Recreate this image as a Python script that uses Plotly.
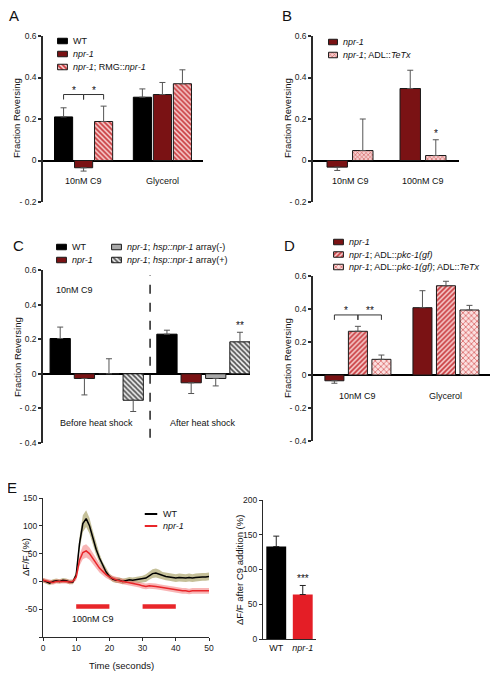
import plotly.graph_objects as go

# The page body has an 8px margin; figure is sized so the page fits the 499x679 window.
PAGE_W, PAGE_H = 499, 679
OFF = 8
W, H = PAGE_W - 2 * OFF, PAGE_H - 2 * OFF
FONT = "Arial, 'Liberation Sans', 'DejaVu Sans', sans-serif"
TXT = '#111111'

# ------------------------------------------------------------------ DATA
# Panel A
A_categories = ["10nM C9", "Glycerol"]
A_labels = ["WT", "<i>npr-1</i>", "<i>npr-1</i>; RMG::<i>npr-1</i>"]
A_wt = [0.21, 0.305]
A_wt_sem = [0.044, 0.040]
A_npr1 = [-0.035, 0.318]
A_npr1_sem = [0.016, 0.058]
A_rmg = [0.188, 0.370]
A_rmg_sem = [0.074, 0.067]

# Panel B
B_categories = ["10nM C9", "100nM C9"]
B_labels = ["<i>npr-1</i>", "<i>npr-1</i>; ADL::<i>TeTx</i>"]
B_npr1 = [-0.032, 0.347]
B_npr1_sem = [0.016, 0.088]
B_tetx = [0.048, 0.024]
B_tetx_sem = [0.152, 0.076]

# Panel C
C_categories = ["Before heat shock", "After heat shock"]
C_labels = ["WT", "<i>npr-1</i>", "<i>npr-1</i>; <i>hsp::npr-1</i> array(-)",
            "<i>npr-1</i>; <i>hsp::npr-1</i> array(+)"]
C_wt = [0.204, 0.229]
C_wt_sem = [0.066, 0.023]
C_npr1 = [-0.027, -0.052]
C_npr1_sem = [0.095, 0.062]
C_arr_minus = [0.0, -0.027]
C_arr_minus_sem = [0.087, 0.043]
C_arr_plus = [-0.153, 0.185]
C_arr_plus_sem = [0.065, 0.055]

# Panel D
D_categories = ["10nM C9", "Glycerol"]
D_labels = ["<i>npr-1</i>", "<i>npr-1</i>; ADL::<i>pkc-1(gf)</i>",
            "<i>npr-1</i>; ADL::<i>pkc-1(gf)</i>; ADL::<i>TeTx</i>"]
D_npr1 = [-0.035, 0.408]
D_npr1_sem = [0.015, 0.103]
D_pkc = [0.265, 0.541]
D_pkc_sem = [0.030, 0.027]
D_tetx = [0.095, 0.394]
D_tetx_sem = [0.026, 0.028]

# Panel E (calcium imaging)
E_time = [0, 1, 2, 3, 4, 5, 6, 7, 8, 9,
          10, 11, 12, 13, 14, 15, 16, 17, 18, 19,
          20, 21, 22, 23, 24, 25, 26, 27, 28, 29,
          30, 31, 32, 33, 34, 35, 36, 37, 38, 39,
          40, 41, 42, 43, 44, 45, 46, 47, 48, 49, 50]
E_wt = [2, 0, -3, 0, 1, 0, 2, 1, -1, -1,
        12, 68, 104, 113, 100, 79, 58, 42, 28, 17,
        9, 4, 2, 2, 0, 1, 3, 2, 3, 3,
        4, 6, 10, 14, 15, 13, 10, 9, 8, 7,
        6, 7, 6, 6, 7, 6, 7, 8, 8, 8, 9]
E_wt_sem = [4, 4, 4, 4, 4, 4, 4, 4, 4, 4,
            6, 12, 15, 15, 14, 12, 10, 8, 7, 6,
            5, 5, 5, 5, 5, 5, 5, 5, 5, 6,
            6, 7, 7, 8, 8, 8, 7, 7, 7, 7,
            7, 7, 7, 7, 7, 7, 7, 7, 7, 7, 7]
E_npr1 = [2, 1, -1, -2, 0, 0, 1, 0, -1, 0,
          8, 38, 52, 55, 50, 41, 32, 24, 18, 12,
          8, 5, 3, 1, 0, -2, -3, -4, -5, -6,
          -8, -9, -8, -8, -9, -10, -11, -12, -14, -14,
          -15, -16, -17, -17, -18, -17, -17, -18, -18, -17, -17]
E_npr1_sem = [4, 4, 4, 4, 4, 4, 4, 4, 4, 4,
              6, 10, 12, 12, 11, 10, 9, 8, 7, 6,
              5, 5, 5, 5, 5, 5, 5, 5, 5, 5,
              5, 5, 5, 5, 5, 5, 5, 5, 5, 5,
              5, 5, 5, 5, 5, 5, 5, 5, 5, 5, 5]
E_stim = [(10, 20), (30, 40)]
E_bar_categories = ["WT", "npr-1"]
E_bar_ticktext = ["WT", "<i>npr-1</i>"]
E_bar_values = [133, 64]
E_bar_sem = [15, 13]

# ------------------------------------------------------------------ STYLE
AX = '#2a2a2a'
BLACK = '#000000'
NPR1 = '#7a1214'
RED = '#e8262a'


def solid(color, line='#1a1a1a'):
    return dict(color=color, line=dict(color=line, width=1))


def hatched(shape, fg, bg, size=4, solidity=0.45):
    return dict(color=bg, line=dict(color='#1a1a1a', width=1),
                pattern=dict(shape=shape, fgcolor=fg, bgcolor=bg, size=size,
                             solidity=solidity, fillmode='replace'))


ST_WT = solid(BLACK, BLACK)
ST_NPR1 = solid(NPR1)
ST_RMG = hatched('\\', '#c8383c', '#f8d0d0', 3.5, 0.5)
ST_TETX_B = hatched('x', '#c84848', '#f6cccc', 3, 0.3)
ST_GRAY = solid('#a9a9a9')
ST_ARR_PLUS = hatched('\\', '#555555', '#e8e8e8', 3.5, 0.45)
ST_PKC = hatched('/', '#c8383c', '#f8d0d0', 3.5, 0.5)
ST_TETX_D = hatched('x', '#d04848', '#fbe0e0', 4, 0.3)


def xd(px):
    return (px - OFF) / W


def yd(py):
    return 1 - (py - OFF) / H


def aid(n):
    return '' if n == 1 else str(n)


fig = go.Figure()
layout = dict(width=W, height=H, margin=dict(l=0, r=0, t=0, b=0), template='none',
              paper_bgcolor='white', plot_bgcolor='white', showlegend=False,
              barmode='overlay', font=dict(family=FONT, size=9, color=TXT))
annotations = []
shapes = []


def text_px(text, x, y, size=9, angle=0, xanchor='center'):
    annotations.append(dict(text=text, xref='paper', yref='paper', x=xd(x), y=yd(y),
                            xanchor=xanchor, yanchor='middle', showarrow=False,
                            textangle=angle, font=dict(size=size, color=TXT, family=FONT)))


def bar_axes(n, x0, x1, ytop, ybot, xrange, yrange, tickvals, ticktext):
    layout['xaxis' + aid(n)] = dict(domain=[xd(x0), xd(x1)], range=xrange, visible=False,
                                    anchor='y' + aid(n), fixedrange=True)
    layout['yaxis' + aid(n)] = dict(domain=[yd(ybot), yd(ytop)], range=yrange, anchor='x' + aid(n),
                                    tickvals=tickvals, ticktext=ticktext, showline=True,
                                    linecolor=AX, linewidth=1.5, ticks='outside', ticklen=3,
                                    tickwidth=1.5, tickcolor=AX, showgrid=False, zeroline=True,
                                    zerolinecolor='#000', zerolinewidth=1.5, fixedrange=True,
                                    tickfont=dict(size=8.5, color='#222', family=FONT))


def add_series(n, values, sems, offset, width, marker, err_color='#555'):
    xs = [i + offset for i in range(len(values))]
    up = [s if v >= 0 else 0 for v, s in zip(values, sems)]
    dn = [0 if v >= 0 else s for v, s in zip(values, sems)]
    fig.add_trace(go.Bar(x=xs, y=values, width=width, marker=marker,
                         error_y=dict(type='data', symmetric=False, array=up, arrayminus=dn,
                                      color=err_color, thickness=1, width=3),
                         xaxis='x' + aid(n), yaxis='y' + aid(n), hoverinfo='skip'))


def data_text(n, text, x, y, size=9, xanchor='center', yanchor='middle', yshift=0):
    annotations.append(dict(text=text, xref='x' + aid(n), yref='y' + aid(n), x=x, y=y,
                            xanchor=xanchor, yanchor=yanchor, yshift=yshift, showarrow=False,
                            font=dict(size=size, color=TXT, family=FONT)))


def cat_labels(n, cats, ylev):
    for i, c in enumerate(cats):
        data_text(n, c, i, ylev)


def bracket(n, cat, xa, xb, level, drop, label):
    x1, x2 = cat + xa, cat + xb
    shapes.append(dict(type='path', xref='x' + aid(n), yref='y' + aid(n),
                       path=f"M{x1},{level - drop} L{x1},{level} L{x2},{level} L{x2},{level - drop}",
                       line=dict(color='#333', width=1)))
    data_text(n, label, (x1 + x2) / 2, level, size=10, yanchor='bottom', yshift=-3)


def star(n, x, top, label):
    data_text(n, label, x, top, size=10, yanchor='bottom', yshift=-1)


def legend_block(n, x_px, y0_px, row_h, sw_w, sw_h, entries, kind='bar'):
    k = len(entries)
    top = y0_px - row_h / 2
    bot = y0_px + (k - 1) * row_h + row_h / 2
    layout['xaxis' + aid(n)] = dict(domain=[xd(x_px), xd(x_px + sw_w)], range=[-0.06, 1.06],
                                    visible=False, anchor='y' + aid(n), fixedrange=True)
    layout['yaxis' + aid(n)] = dict(domain=[yd(bot), yd(top)], range=[k - 0.5, -0.5],
                                    visible=False, anchor='x' + aid(n), fixedrange=True)
    for i, (label, style) in enumerate(entries):
        if kind == 'bar':
            fig.add_trace(go.Bar(x=[1], y=[i], base=0, orientation='h', width=sw_h / row_h,
                                 marker=style, xaxis='x' + aid(n), yaxis='y' + aid(n),
                                 hoverinfo='skip'))
        else:
            fig.add_trace(go.Scatter(x=[0, 1], y=[i, i], mode='lines', line=style,
                                     xaxis='x' + aid(n), yaxis='y' + aid(n), hoverinfo='skip'))
        text_px(label, x_px + sw_w + 3, y0_px + i * row_h, size=9, xanchor='left')


TICKS_A = [-0.2, 0, 0.2, 0.4, 0.6]
TEXT_A = ['- 0.2', '0', '0.2', '0.4', '0.6']
TICKS_C = [-0.4, -0.2, 0, 0.2, 0.4, 0.6]
TEXT_C = ['- 0.4', '- 0.2', '0', '0.2', '0.4', '0.6']

# ------------------------------------------------------------------ PANEL A
offA = [-0.254, 0, 0.254]
bar_axes(1, 43, 203, 36, 202, [-0.515, 1.515], [-0.2, 0.6], TICKS_A, TEXT_A)
for vals, sems, st, off in zip([A_wt, A_npr1, A_rmg], [A_wt_sem, A_npr1_sem, A_rmg_sem],
                               [ST_WT, ST_NPR1, ST_RMG], offA):
    add_series(1, vals, sems, off, 0.23, st)
cat_labels(1, A_categories, -0.1)
bracket(1, 0, offA[0], offA[1], 0.318, 0.024, '*')
bracket(1, 0, offA[1], offA[2], 0.318, 0.024, '*')
legend_block(7, 57, 41, 13, 11, 5.5, list(zip(A_labels, [ST_WT, ST_NPR1, ST_RMG])))
text_px('A', 14, 16, size=15)
text_px('Fraction Reversing', 17, 118, size=9.5, angle=-90)

# ------------------------------------------------------------------ PANEL B
offB = [-0.175, 0.175]
bar_axes(2, 313, 459, 36, 202, [-0.507, 1.493], [-0.2, 0.6], TICKS_A, TEXT_A)
for vals, sems, st, off in zip([B_npr1, B_tetx], [B_npr1_sem, B_tetx_sem],
                               [ST_NPR1, ST_TETX_B], offB):
    add_series(2, vals, sems, off, 0.28, st)
cat_labels(2, B_categories, -0.1)
star(2, 1 + offB[1], B_tetx[1] + B_tetx_sem[1], '*')
legend_block(8, 328, 42, 13, 10, 5.5, list(zip(B_labels, [ST_NPR1, ST_TETX_B])))
text_px('B', 287, 16, size=15)
text_px('Fraction Reversing', 288, 118, size=9.5, angle=-90)

# ------------------------------------------------------------------ PANEL C
offC = [-0.342, -0.115, 0.115, 0.342]
bar_axes(3, 43, 250, 270, 443, [-0.503, 1.436], [-0.4, 0.6], TICKS_C, TEXT_C)
for vals, sems, st, off in zip([C_wt, C_npr1, C_arr_minus, C_arr_plus],
                               [C_wt_sem, C_npr1_sem, C_arr_minus_sem, C_arr_plus_sem],
                               [ST_WT, ST_NPR1, ST_GRAY, ST_ARR_PLUS], offC):
    add_series(3, vals, sems, off, 0.19, st)
cat_labels(3, C_categories, -0.283)
star(3, 1 + offC[3], C_arr_plus[1] + C_arr_plus_sem[1], '**')
shapes.append(dict(type='line', xref='x3', yref='y3', x0=0.5, x1=0.5, y0=-0.37, y1=0.57,
                   line=dict(color='#222', width=1.5, dash='dash')))
data_text(3, '10nM C9', -0.40, 0.486, xanchor='left')
legend_block(9, 56, 247, 13, 11, 5.5, list(zip(C_labels[:2], [ST_WT, ST_NPR1])))
legend_block(10, 111, 247, 13, 11, 5.5, list(zip(C_labels[2:], [ST_GRAY, ST_ARR_PLUS])))
text_px('C', 18, 245, size=15)
text_px('Fraction Reversing', 17, 357, size=9.5, angle=-90)

# ------------------------------------------------------------------ PANEL D
offD = [-0.267, 0, 0.267]
bar_axes(4, 313, 490, 276, 441, [-0.51, 1.5], [-0.4, 0.6], TICKS_C, TEXT_C)
for vals, sems, st, off in zip([D_npr1, D_pkc, D_tetx], [D_npr1_sem, D_pkc_sem, D_tetx_sem],
                               [ST_NPR1, ST_PKC, ST_TETX_D], offD):
    add_series(4, vals, sems, off, 0.216, st)
cat_labels(4, D_categories, -0.13)
bracket(4, 0, offD[0], offD[1], 0.364, 0.03, '*')
bracket(4, 0, offD[1], offD[2], 0.364, 0.03, '**')
legend_block(11, 333, 242, 12.5, 11, 5.5, list(zip(D_labels, [ST_NPR1, ST_PKC, ST_TETX_D])))
text_px('D', 289, 245, size=15)
text_px('Fraction Reversing', 287, 358, size=9.5, angle=-90)

# ------------------------------------------------------------------ PANEL E (traces)
layout['xaxis5'] = dict(domain=[xd(43), xd(209)], range=[0, 50], anchor='y5',
                        tickvals=[0, 10, 20, 30, 40, 50], showline=True, linecolor=AX,
                        linewidth=1.2, ticks='outside', ticklen=3, tickcolor=AX, showgrid=False,
                        zeroline=False, tickfont=dict(size=8.5, color='#222', family=FONT),
                        fixedrange=True)
layout['yaxis5'] = dict(domain=[yd(637), yd(498)], range=[-100, 150], anchor='x5',
                        tickvals=[-100, -50, 0, 50, 100, 150],
                        ticktext=['', '-50', '0', '50', '100', '150'], showline=True,
                        linecolor=AX, linewidth=1.2, ticks='outside', ticklen=3, tickcolor=AX,
                        showgrid=False, zeroline=False,
                        tickfont=dict(size=8.5, color='#222', family=FONT), fixedrange=True)


def band(mean, sem, color):
    lo = [m - s for m, s in zip(mean, sem)]
    hi = [m + s for m, s in zip(mean, sem)]
    fig.add_trace(go.Scatter(x=E_time, y=lo, mode='lines', line=dict(width=0),
                             xaxis='x5', yaxis='y5', hoverinfo='skip'))
    fig.add_trace(go.Scatter(x=E_time, y=hi, mode='lines', line=dict(width=0), fill='tonexty',
                             fillcolor=color, xaxis='x5', yaxis='y5', hoverinfo='skip'))


band(E_wt, E_wt_sem, 'rgba(150,140,70,0.55)')
band(E_npr1, E_npr1_sem, 'rgba(240,90,90,0.45)')
fig.add_trace(go.Scatter(x=E_time, y=E_wt, mode='lines', line=dict(color=BLACK, width=1.5),
                         xaxis='x5', yaxis='y5', hoverinfo='skip'))
fig.add_trace(go.Scatter(x=E_time, y=E_npr1, mode='lines', line=dict(color=RED, width=1.5),
                         xaxis='x5', yaxis='y5', hoverinfo='skip'))
STIM_Y = -45
for a, b in E_stim:
    fig.add_trace(go.Scatter(x=[a, b], y=[STIM_Y, STIM_Y], mode='lines',
                             line=dict(color=RED, width=4.5), xaxis='x5', yaxis='y5',
                             hoverinfo='skip'))
data_text(5, '100nM C9', 15, -67)
legend_block(12, 144, 514, 12, 14, 0, [('WT', dict(color=BLACK, width=2)),
                                       ('<i>npr-1</i>', dict(color=RED, width=2))], kind='line')
text_px('E', 12, 487, size=15)
text_px('\u0394F/F (%)', 25, 557, size=9.5, angle=-90)
text_px('Time (seconds)', 121, 665, size=9.5)

# ------------------------------------------------------------------ PANEL E (summary bars)
layout['xaxis6'] = dict(domain=[xd(263), xd(316)], range=[-0.5, 1.5], anchor='y6',
                        type='category', tickvals=E_bar_categories, ticktext=E_bar_ticktext,
                        showline=True, linecolor=AX, linewidth=1.2, ticks='', showgrid=False,
                        zeroline=False, tickfont=dict(size=9, color=TXT, family=FONT),
                        fixedrange=True)
layout['yaxis6'] = dict(domain=[yd(639), yd(500)], range=[0, 200], anchor='x6',
                        tickvals=[0, 50, 100, 150, 200], showline=True, linecolor=AX,
                        linewidth=1.2, ticks='outside', ticklen=3, tickcolor=AX, showgrid=False,
                        zeroline=False, tickfont=dict(size=8.5, color='#222', family=FONT),
                        fixedrange=True)
fig.add_trace(go.Bar(x=E_bar_categories, y=E_bar_values, width=0.75,
                     marker=dict(color=[BLACK, '#e41e26'], line=dict(width=0)),
                     error_y=dict(type='data', symmetric=False, array=E_bar_sem,
                                  arrayminus=[0 for _ in E_bar_sem], color='#222',
                                  thickness=1, width=3),
                     xaxis='x6', yaxis='y6', hoverinfo='skip'))
data_text(6, '***', E_bar_categories[1], E_bar_values[1] + E_bar_sem[1], size=10,
          yanchor='bottom', yshift=-1)
text_px('\u0394F/F after C9 addition (%)', 239, 570, size=9.5, angle=-90)

layout['annotations'] = annotations
layout['shapes'] = shapes
fig.update_layout(**layout)
fig.write_html("out.html")
